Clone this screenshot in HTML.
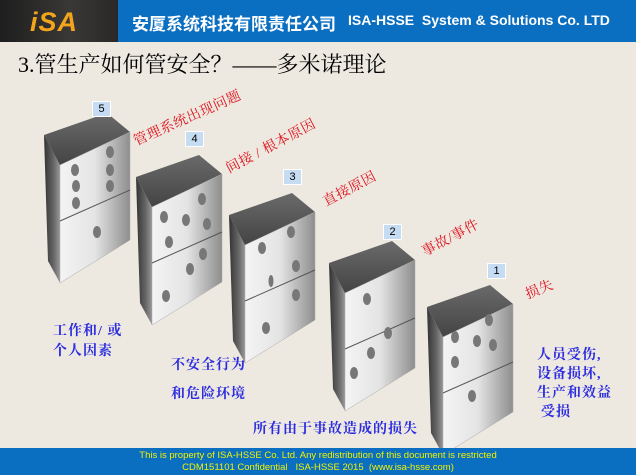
<!DOCTYPE html>
<html><head><meta charset="utf-8"><style>
html,body{margin:0;padding:0;}
body{width:636px;height:475px;overflow:hidden;background:#ede9e1;position:relative;font-family:"Liberation Sans","Noto Sans CJK SC",sans-serif;}
.t{position:absolute;white-space:nowrap;}
.blue{color:#2b2be0;font-weight:bold;font-size:14px;font-family:"Liberation Serif","Noto Serif CJK SC",serif;letter-spacing:1px;}
.red{color:#e0101a;font-size:14px;font-family:"Liberation Serif","Noto Serif CJK SC",serif;transform-origin:0 0;letter-spacing:0.5px;}
.num{position:absolute;width:17px;height:14px;background:#c6dcf2;border:1px solid #fff;font-size:11px;text-align:center;line-height:14px;color:#000;}
</style></head><body>
<div style="position:absolute;left:0;top:0;width:118px;height:42px;background:linear-gradient(90deg,#1e1e1e,#3a3836 60%,#2a2826);"></div>
<div class="t" style="left:30px;top:7px;font-size:27px;font-weight:bold;font-style:italic;color:#f2a41c;letter-spacing:1px;">iSA</div>
<div style="position:absolute;left:118px;top:0;width:518px;height:42px;background:#0b6fc1;"></div>
<div class="t" style="left:132px;top:10px;color:#fff;font-weight:bold;font-size:17px;">安厦系统科技有限责任公司</div>
<div class="t" style="left:348px;top:12px;color:#fff;font-weight:bold;font-size:14px;">ISA-HSSE&nbsp; System &amp; Solutions Co. LTD</div>
<div class="t" style="left:18px;top:48px;font-size:22px;font-family:'Liberation Serif','Noto Serif CJK SC',serif;color:#000;">3.管生产如何管安全？——多米诺理论</div>

<svg style="position:absolute;left:0;top:0" width="636" height="475">
<defs>
<linearGradient id="fr" x1="0" x2="1" y1="0" y2="0"><stop offset="0" stop-color="#f4f4f4"/><stop offset="0.5" stop-color="#e4e4e4"/><stop offset="1" stop-color="#8e8e8e"/></linearGradient>
<linearGradient id="sd" x1="0" x2="1"><stop offset="0" stop-color="#333"/><stop offset="0.6" stop-color="#666"/><stop offset="1" stop-color="#999"/></linearGradient>
<linearGradient id="tp" x1="0" x2="0" y1="0" y2="1"><stop offset="0" stop-color="#6a6a6a"/><stop offset="1" stop-color="#444"/></linearGradient>
<g id="dom">
<polygon points="-16,-30 0,0 0,118 -12,96" fill="url(#sd)"/>
<polygon points="-16,-30 47,-52 70,-33 0,0" fill="url(#tp)"/>
<polygon points="0,0 70,-33 70,75 0,118" fill="url(#fr)" stroke="#aaa" stroke-width="0.5"/>
<line x1="0" y1="56" x2="70" y2="25" stroke="#555" stroke-width="1"/>
</g>
</defs>
<use href="#dom" x="60" y="165"/>
<use href="#dom" x="152" y="207"/>
<use href="#dom" x="245" y="245"/>
<use href="#dom" x="345" y="293"/>
<use href="#dom" x="443" y="337"/>
<g fill="#777">
<ellipse cx="75" cy="170" rx="4" ry="6"/><ellipse cx="76" cy="186" rx="4" ry="6"/><ellipse cx="76" cy="203" rx="4" ry="6"/>
<ellipse cx="110" cy="152" rx="4" ry="6"/><ellipse cx="110" cy="170" rx="4" ry="6"/><ellipse cx="110" cy="186" rx="4" ry="6"/>
<ellipse cx="97" cy="232" rx="4" ry="6"/>
<ellipse cx="164" cy="217" rx="4" ry="6"/><ellipse cx="186" cy="220" rx="4" ry="6"/><ellipse cx="207" cy="224" rx="4" ry="6"/><ellipse cx="202" cy="199" rx="4" ry="6"/><ellipse cx="169" cy="242" rx="4" ry="6"/>
<ellipse cx="203" cy="254" rx="4" ry="6"/><ellipse cx="190" cy="269" rx="4" ry="6"/><ellipse cx="166" cy="296" rx="4" ry="6"/>
<ellipse cx="262" cy="248" rx="4" ry="6"/><ellipse cx="291" cy="232" rx="4" ry="6"/><ellipse cx="296" cy="266" rx="4" ry="6"/><ellipse cx="271" cy="281" rx="2.5" ry="6"/>
<ellipse cx="296" cy="295" rx="4" ry="6"/><ellipse cx="266" cy="328" rx="4" ry="6"/>
<ellipse cx="367" cy="299" rx="4" ry="6"/><ellipse cx="388" cy="333" rx="4" ry="6"/><ellipse cx="371" cy="353" rx="4" ry="6"/><ellipse cx="354" cy="373" rx="4" ry="6"/>
<ellipse cx="489" cy="320" rx="4" ry="6"/><ellipse cx="455" cy="337" rx="4" ry="6"/><ellipse cx="477" cy="341" rx="4" ry="6"/><ellipse cx="493" cy="345" rx="4" ry="6"/><ellipse cx="455" cy="362" rx="4" ry="6"/>
<ellipse cx="472" cy="396" rx="4" ry="6"/>
</g>
</svg>

<div class="num" style="left:92px;top:101px;">5</div>
<div class="num" style="left:185px;top:131px;">4</div>
<div class="num" style="left:283px;top:169px;">3</div>
<div class="num" style="left:383px;top:224px;">2</div>
<div class="num" style="left:487px;top:263px;">1</div>

<div class="t red" style="left:130px;top:132px;transform:rotate(-24deg);">管理系统出现问题</div>
<div class="t red" style="left:222px;top:160px;transform:rotate(-28deg);">间接 / 根本原因</div>
<div class="t red" style="left:319px;top:193px;transform:rotate(-28deg);">直接原因</div>
<div class="t red" style="left:418px;top:243px;transform:rotate(-28deg);">事故/事件</div>
<div class="t red" style="left:522px;top:285px;transform:rotate(-22deg);">损失</div>

<div class="t blue" style="left:53px;top:320px;">工作和/ 或</div>
<div class="t blue" style="left:53px;top:340px;">个人因素</div>
<div class="t blue" style="left:171px;top:354px;">不安全行为</div>
<div class="t blue" style="left:171px;top:383px;">和危险环境</div>
<div class="t blue" style="left:253px;top:418px;">所有由于事故造成的损失</div>
<div class="t blue" style="left:537px;top:344px;">人员受伤,</div>
<div class="t blue" style="left:537px;top:363px;">设备损坏,</div>
<div class="t blue" style="left:537px;top:382px;">生产和效益</div>
<div class="t blue" style="left:541px;top:401px;">受损</div>

<div style="position:absolute;left:0;top:448px;width:636px;height:27px;background:#0b6fc1;"></div>
<div class="t" style="left:0;width:636px;top:450px;text-align:center;color:#f2f200;font-size:9.5px;line-height:12px;">This is property of ISA-HSSE Co. Ltd. Any redistribution of this document is restricted<br>CDM151101 Confidential &nbsp; ISA-HSSE 2015 &nbsp;(www.isa-hsse.com)</div>
</body></html>
